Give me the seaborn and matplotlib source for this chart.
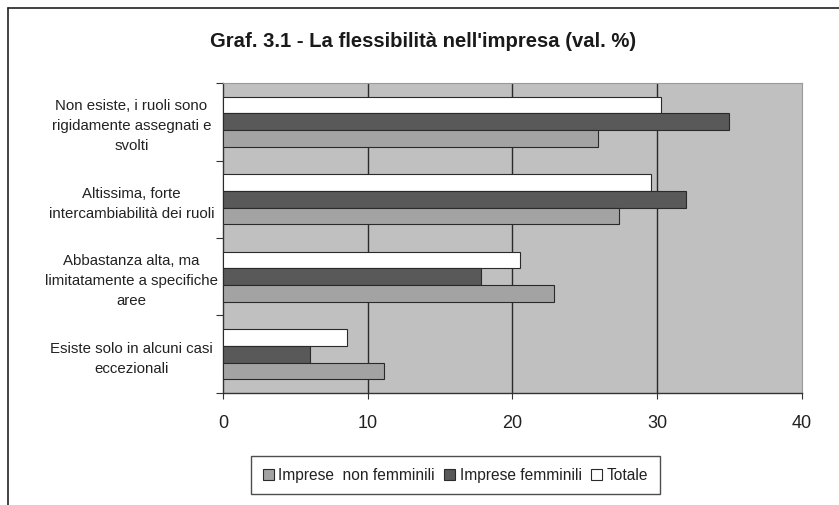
import pandas as pd
import numpy as np
import matplotlib.pyplot as plt
import seaborn as sns
from matplotlib.lines import Line2D
from matplotlib.patches import Patch

# -----------------------------
# Data
# -----------------------------

categories = [
    "Non esiste, i ruoli sono\nrigidamente assegnati e\nsvolti",
    "Altissima, forte\nintercambiabilità dei ruoli",
    "Abbastanza alta, ma\nlimitatamente a specifiche\naree",
    "Esiste solo in alcuni casi\neccezionali",
]
series_names = ["Totale", "Imprese femminili", "Imprese  non femminili"]
totale = [30.3, 29.6, 20.5, 8.6]
femminili = [35.0, 32.0, 17.8, 6.0]
non_femminili = [25.9, 27.4, 22.9, 11.1]
x_ticks = [0, 10, 20, 30, 40]

colors = {"Totale": "#ffffff",
          "Imprese femminili": "#595959",
          "Imprese  non femminili": "#a3a3a3"}

df = pd.DataFrame({
    "categoria": categories * 3,
    "serie": [series_names[0]] * 4 + [series_names[1]] * 4 + [series_names[2]] * 4,
    "valore": totale + femminili + non_femminili,
})

# -----------------------------
# Plot
# -----------------------------

sns.set_style("white")
plt.rcParams["font.family"] = ["Liberation Sans", "DejaVu Sans"]

fig = plt.figure(figsize=(8.39, 5.05), dpi=100)
ax = fig.add_axes([0.2658, 0.2218, 0.6897, 0.6138])
ax.set_facecolor("#c0c0c0")

sns.barplot(data=df, y="categoria", x="valore", hue="serie",
            hue_order=series_names, palette=colors, orient="h",
            width=0.65, edgecolor="#2a2a2a", linewidth=0.8,
            legend=False, ax=ax, zorder=3)

ax.set_xlim(0, 40)
ax.set_ylim(3.5, -0.5)
ax.set_xticks(x_ticks)
ax.set_xticklabels([str(t) for t in x_ticks], fontsize=13, color="#222222")
ax.tick_params(axis="x", length=4, width=0.8, color="#333333", pad=12, direction="out", bottom=True)

ax.set_yticks(range(len(categories)))
ax.set_yticklabels(categories, fontsize=10.8, color="#222222", ha="center", linespacing=1.55)
ax.tick_params(axis="y", length=0, pad=66)
ax.set_yticks(np.arange(-0.5, 4.0, 1.0), minor=True)
ax.tick_params(axis="y", which="minor", length=5, width=0.8, color="#333333", left=True)

for t in x_ticks[1:-1]:
    ax.axvline(t, color="#2a2a2a", linewidth=1.0, zorder=1)

ax.set_xlabel("")
ax.set_ylabel("")
for side in ["left", "bottom"]:
    ax.spines[side].set_color("#333333")
    ax.spines[side].set_linewidth(1.0)
for side in ["top", "right"]:
    ax.spines[side].set_color("#9a9a9a")
    ax.spines[side].set_linewidth(0.8)

fig.text(0.504, 0.917, "Graf. 3.1 - La flessibilità nell'impresa (val. %)",
         ha="center", va="center", fontsize=14.6, fontweight="bold", color="#1a1a1a")

# legend (Excel order: reversed)
handles = [Patch(facecolor=colors[s], edgecolor="#2a2a2a", linewidth=0.8)
           for s in reversed(series_names)]
leg = fig.legend(handles, list(reversed(series_names)), loc="center",
                 bbox_to_anchor=(0.543, 0.059), ncol=3, fontsize=11.2,
                 frameon=True, fancybox=False, handlelength=0.7, handleheight=0.7,
                 handletextpad=0.3, columnspacing=0.6, borderpad=0.75)
leg.get_frame().set_edgecolor("#222222")
leg.get_frame().set_linewidth(1.0)
for txt in leg.get_texts():
    txt.set_color("#222222")

# outer frame (only top and left edges visible)
fig.add_artist(Line2D([8 / 839, 1.0], [1 - 8 / 505, 1 - 8 / 505], color="#222222", linewidth=1.2))
fig.add_artist(Line2D([8 / 839, 8 / 839], [0.0, 1 - 8 / 505], color="#222222", linewidth=1.2))

fig.savefig("out.png", dpi=100)
plt.close()
